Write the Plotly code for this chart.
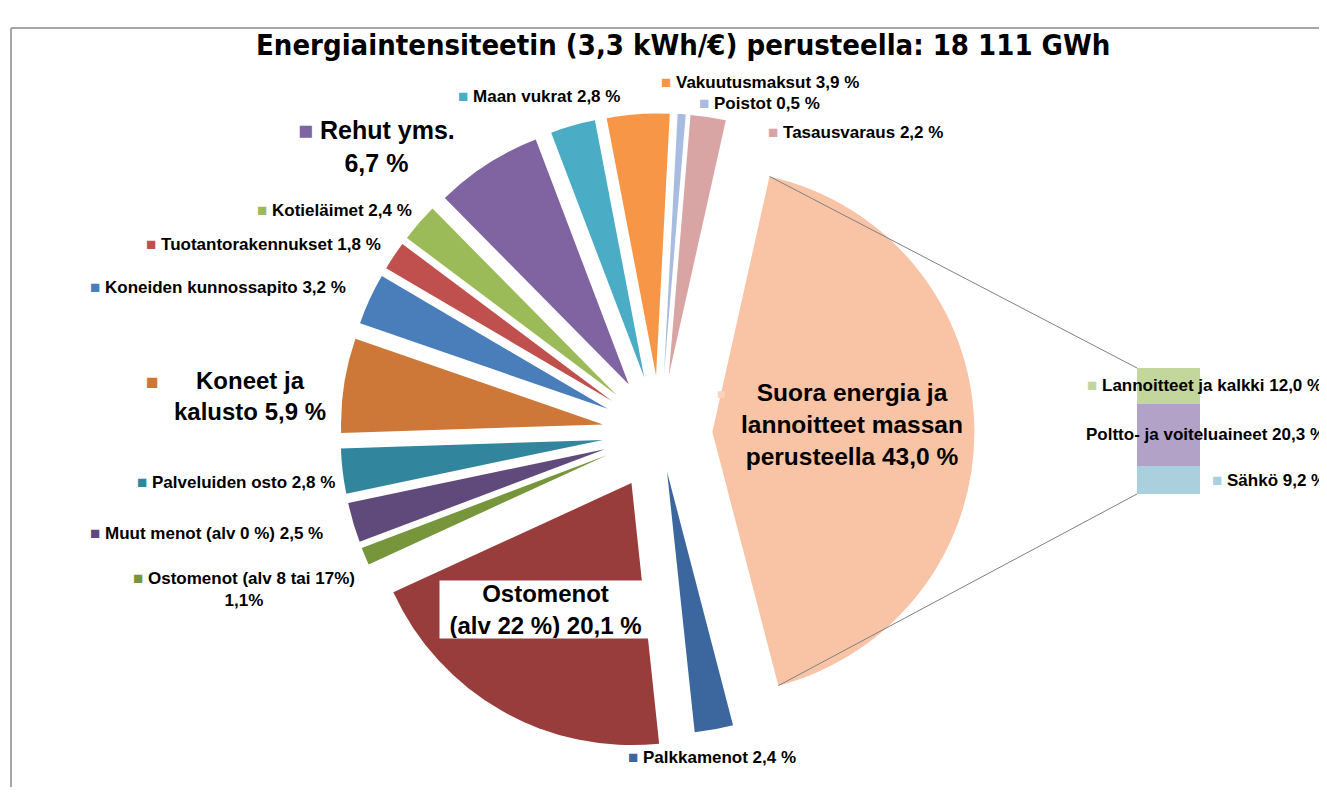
import math
import plotly.graph_objects as go

# ---------------- data ----------------
categories = [
    "Poistot", "Tasausvaraus", "Suora energia ja lannoitteet massan perusteella",
    "Palkkamenot", "Ostomenot (alv 22 %)", "Ostomenot (alv 8 tai 17%)",
    "Muut menot (alv 0 %)", "Palveluiden osto", "Koneet ja kalusto",
    "Koneiden kunnossapito", "Tuotantorakennukset", "Kotieläimet",
    "Rehut yms.", "Maan vukrat", "Vakuutusmaksut",
]
values = [0.5, 2.2, 43.0, 2.4, 20.1, 1.1, 2.5, 2.8, 5.9, 3.2, 1.8, 2.4, 6.7, 2.8, 3.9]
colors = [
    "#a8bbe0", "#d9a4a4", "#f9c3a6", "#3b679e", "#983d3b", "#77963c",
    "#604a7b", "#31859c", "#cd7838", "#4a7ebb", "#c0504d", "#9bbb59",
    "#8064a2", "#4bacc6", "#f79646",
]
pulls = [0.22, 0.22, 0.20, 0.15, 0.22, 0.22, 0.22, 0.22, 0.22, 0.22, 0.22, 0.22, 0.22, 0.22, 0.22]

bar_categories = ["Sähkö", "Poltto- ja voiteluaineet", "Lannoitteet ja kalkki"]
bar_values = [9.2, 20.3, 12.0]
bar_colors = ["#a9d0dc", "#b3a2c7", "#c3d69b"]

title_text = "Energiaintensiteetin (3,3 kWh/€) perusteella: 18 111 GWh"

# ---------------- layout constants (page pixels) ----------------
OFF = 8                                   # page body margin
W, H = 1327 - 2 * OFF, 805 - 2 * OFF - 10  # figure size (no page overflow)
CX, CY, R = 660, 433, 262
ROT = 3
BAR_X0, BAR_X1, BAR_Y0, BAR_Y1 = 1137, 1200, 494, 368


def X(p):
    return (p - OFF) / W


def Y(p):
    return 1 - (p - OFF) / H


def fmt(v):
    return f"{v:.1f}".replace(".", ",")


maxpull = max(pulls)
half = R * (1 + maxpull)

fig = go.Figure()
fig.add_trace(go.Pie(
    labels=categories, values=values, sort=False, direction="clockwise",
    rotation=ROT, pull=pulls, textinfo="none", hoverinfo="label+percent",
    marker=dict(colors=colors, line=dict(width=0)),
    domain=dict(x=[X(CX - half), X(CX + half)], y=[Y(CY + half), Y(CY - half)]),
    showlegend=False,
))

for cat, val, col in zip(bar_categories, bar_values, bar_colors):
    fig.add_trace(go.Bar(x=[0], y=[val], name=cat, marker=dict(color=col, line=dict(width=0)),
                         width=1, showlegend=False, xaxis="x", yaxis="y"))

bar_total = sum(bar_values)

# ---------------- connector lines from the big slice ----------------
total = sum(values)
idx = 2
start = ROT + sum(values[:idx]) / total * 360
end = start + values[idx] / total * 360
mid = (start + end) / 2
ax_ = CX + pulls[idx] * R * math.sin(math.radians(mid))
ay_ = CY - pulls[idx] * R * math.cos(math.radians(mid))
c1 = (ax_ + R * math.sin(math.radians(start)), ay_ - R * math.cos(math.radians(start)))
c2 = (ax_ + R * math.sin(math.radians(end)), ay_ - R * math.cos(math.radians(end)))

shapes = [
    dict(type="line", xref="paper", yref="paper", x0=X(c1[0]), y0=Y(c1[1]), x1=X(BAR_X0), y1=Y(BAR_Y1),
         line=dict(color="#808080", width=1)),
    dict(type="line", xref="paper", yref="paper", x0=X(c2[0]), y0=Y(c2[1]), x1=X(BAR_X0), y1=Y(BAR_Y0),
         line=dict(color="#808080", width=1)),
    # frame
    dict(type="line", xref="paper", yref="paper", x0=X(11), y0=Y(28), x1=1.0, y1=Y(28),
         line=dict(color="#a6a6a6", width=2)),
    dict(type="line", xref="paper", yref="paper", x0=X(11), y0=Y(28), x1=X(11), y1=0,
         line=dict(color="#a6a6a6", width=2)),
]

FONT = "Liberation Sans, Arial, sans-serif"
SMALL = 17
annotations = []


def sq(col):
    return f'<span style="color:{col}">■</span>'


def simple(i, xpx, ypx, size=SMALL, text=None, align="left"):
    t = text if text is not None else f"{categories[i]} {fmt(values[i])} %"
    annotations.append(dict(
        x=X(xpx), y=Y(ypx), xref="paper", yref="paper", xanchor="left", yanchor="middle",
        text=f"{sq(colors[i])} <b>{t}</b>", showarrow=False, align=align,
        font=dict(family=FONT, size=size, color="#000000")))


simple(0, 697, 104)
simple(1, 766, 133)
simple(3, 626, 757)
simple(7, 135, 482)
simple(6, 88, 533)
simple(9, 88, 287)
simple(10, 144, 244)
simple(11, 255, 210)
simple(13, 456, 97)
simple(14, 659, 82)
simple(5, 131, 589, text=f"{categories[5]}<br>{fmt(values[5])}%", align="center")
simple(12, 296, 146, size=25, text=f"Rehut yms.<br>{fmt(values[12])} %", align="center")

# Koneet ja kalusto: key square separated from centered text
annotations.append(dict(
    x=X(144), y=Y(381), xref="paper", yref="paper", xanchor="left", yanchor="middle",
    text="■", showarrow=False, font=dict(family=FONT, size=21, color=colors[8])))
annotations.append(dict(
    x=X(250), y=Y(396), xref="paper", yref="paper", xanchor="center", yanchor="middle",
    text=f"<b>Koneet ja<br>kalusto {fmt(values[8])} %</b>", showarrow=False, align="center",
    font=dict(family=FONT, size=24, color="#000000")))

# big red slice label in white box
annotations.append(dict(
    x=X(545), y=Y(609), xref="paper", yref="paper", xanchor="center", yanchor="middle",
    text=f"<b>Ostomenot<br>(alv 22 %) {fmt(values[4])} %</b>", showarrow=False, align="center",
    bgcolor="#ffffff", borderpad=0, width=211, height=57,
    font=dict(family=FONT, size=24, color="#000000")))

# big slice label
annotations.append(dict(
    x=X(715), y=Y(394), xref="paper", yref="paper", xanchor="left", yanchor="middle",
    text="■", showarrow=False, font=dict(family=FONT, size=14, color="#fbd3bd")))
annotations.append(dict(
    x=X(852), y=Y(425), xref="paper", yref="paper", xanchor="center", yanchor="middle",
    text=f"<b>Suora energia ja<br>lannoitteet massan<br>perusteella {fmt(values[2])} %</b>",
    showarrow=False, align="center", font=dict(family=FONT, size=24.5, color="#000000")))

# bar labels (cut off at the right edge, as in the original)
annotations.append(dict(
    x=X(1085), y=Y(385), xref="paper", yref="paper", xanchor="left", yanchor="middle",
    text=f"{sq(bar_colors[2])} <b>{bar_categories[2]} {fmt(bar_values[2])} %</b>", showarrow=False,
    font=dict(family=FONT, size=SMALL, color="#000000")))
annotations.append(dict(
    x=X(1084), y=Y(434), xref="paper", yref="paper", xanchor="left", yanchor="middle",
    text=f"<b>{bar_categories[1]} {fmt(bar_values[1])} %</b>", showarrow=False,
    font=dict(family=FONT, size=SMALL, color="#000000")))
annotations.append(dict(
    x=X(1210), y=Y(480), xref="paper", yref="paper", xanchor="left", yanchor="middle",
    text=f"{sq(bar_colors[0])} <b>{bar_categories[0]} {fmt(bar_values[0])} %</b>", showarrow=False,
    font=dict(family=FONT, size=SMALL, color="#000000")))

# title
annotations.append(dict(
    x=X(683), y=Y(45), xref="paper", yref="paper", xanchor="center", yanchor="middle",
    text=f"<b>{title_text}</b>", showarrow=False,
    font=dict(family="Liberation Sans Narrow, DejaVu Sans Condensed, sans-serif", size=29, color="#000000")))

fig.update_layout(
    width=W, height=H, margin=dict(l=0, r=0, t=0, b=0),
    paper_bgcolor="#ffffff", plot_bgcolor="rgba(0,0,0,0)",
    barmode="stack", bargap=0,
    xaxis=dict(domain=[X(BAR_X0), X(BAR_X1)], range=[-0.5, 0.5], visible=False, fixedrange=True),
    yaxis=dict(domain=[Y(BAR_Y0), Y(BAR_Y1)], range=[0, bar_total], visible=False, fixedrange=True),
    shapes=shapes, annotations=annotations, showlegend=False,
)

fig.write_html("out.html")
